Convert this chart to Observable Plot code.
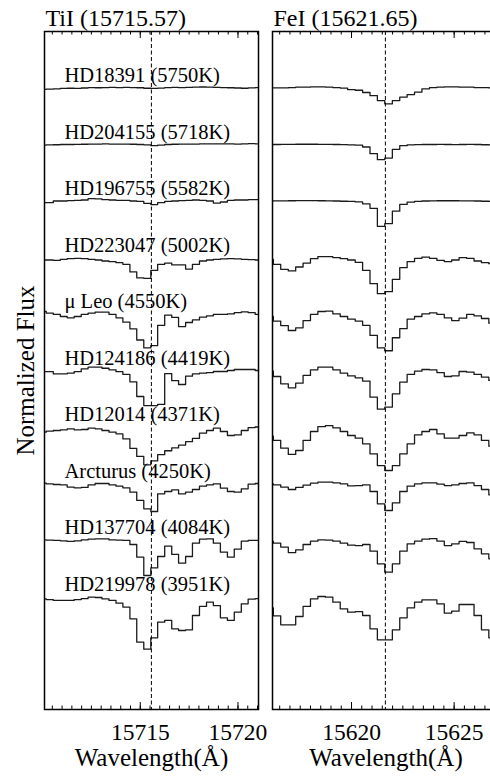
<!DOCTYPE html>
<html>
<head>
<meta charset="utf-8">
<script src="https://cdn.jsdelivr.net/npm/d3@7"></script>
<script src="https://cdn.jsdelivr.net/npm/@observablehq/plot@0.6"></script>
<style>
html, body { margin: 0; padding: 0; background: #fff; overflow: hidden; }
#fig { position: relative; width: 490px; height: 777px; overflow: hidden; background: #fff; }
#fig svg { position: absolute; top: 0; }
#fig svg, #fig svg text { font-family: 'Liberation Serif', serif !important; }
</style>
</head>
<body>
<div id="fig"></div>
<script>
// ---- Data -------------------------------------------------------------
const stars = ["HD18391 (5750K)", "HD204155 (5718K)", "HD196755 (5582K)", "HD223047 (5002K)",
  "μ Leo (4550K)", "HD124186 (4419K)", "HD12014 (4371K)", "Arcturus (4250K)",
  "HD137704 (4084K)", "HD219978 (3951K)"];
const offsets = [4.5, 4.0, 3.5, 3.0, 2.5, 2.0, 1.5, 1.0, 0.5, 0.0];

const tiTitle = "TiI (15715.57)";
const feTitle = "FeI (15621.65)";
const tiLine = 15715.57;
const feLine = 15621.65;
const tiDomain = [15710.10, 15721.05];
const feDomain = [15616.15, 15627.21];
const tiMajor = [15715, 15720];
const feMajor = [15620, 15625];
const tiMinor = [15710.5, 15711, 15711.5, 15712, 15712.5, 15713, 15713.5, 15714, 15714.5, 15715, 15715.5,
  15716, 15716.5, 15717, 15717.5, 15718, 15718.5, 15719, 15719.5, 15720, 15720.5, 15721];
const feMinor = [15616.5, 15617, 15617.5, 15618, 15618.5, 15619, 15619.5, 15620, 15620.5, 15621, 15621.5,
  15622, 15622.5, 15623, 15623.5, 15624, 15624.5, 15625, 15625.5, 15626, 15626.5, 15627];

// pixel edges (wavelength, Å)
const tiEdges = [15709.84, 15710.19, 15710.55, 15710.91, 15711.26, 15711.62, 15711.98, 15712.33, 15712.69,
  15713.04, 15713.40, 15713.76, 15714.11, 15714.47, 15714.82, 15715.18, 15715.54, 15715.89, 15716.25,
  15716.61, 15716.96, 15717.32, 15717.67, 15718.03, 15718.39, 15718.74, 15719.10, 15719.46, 15719.81,
  15720.17, 15720.52, 15720.88, 15721.24];
const feEdges = [15615.83, 15616.19, 15616.55, 15616.92, 15617.28, 15617.64, 15618.00, 15618.36, 15618.73,
  15619.09, 15619.45, 15619.81, 15620.18, 15620.54, 15620.90, 15621.26, 15621.62, 15621.99, 15622.35,
  15622.71, 15623.07, 15623.43, 15623.80, 15624.16, 15624.52, 15624.88, 15625.24, 15625.61, 15625.97,
  15626.33, 15626.69, 15627.05];

// Ti I normalized flux per pixel
const tiHD18391 = [0.988, 0.990, 0.993, 0.996, 0.998, 0.997, 1.000, 1.003, 1.002, 1.004, 1.005, 1.003, 1.006, 1.004, 1.002, 0.998, 0.996, 0.999, 1.004, 1.006, 1.003, 1.005, 1.008, 1.009, 1.007, 1.005, 1.004, 1.002, 1.000, 0.998, 1.001, 1.003];
const tiHD204155 = [0.995, 0.996, 0.998, 1.000, 1.000, 1.001, 1.002, 1.003, 1.004, 1.005, 1.004, 1.003, 1.003, 1.002, 1.000, 0.997, 0.990, 0.995, 1.000, 1.002, 1.003, 1.004, 1.004, 1.005, 1.006, 1.006, 1.005, 1.005, 1.004, 1.006, 1.007, 1.006];
const tiHD196755 = [0.985, 0.985, 1.000, 1.000, 1.003, 1.006, 1.009, 1.021, 1.018, 1.012, 1.009, 1.006, 1.006, 1.000, 0.997, 0.979, 0.968, 0.985, 0.997, 1.000, 1.003, 1.006, 1.009, 1.006, 1.000, 0.982, 0.991, 1.006, 1.009, 1.009, 1.012, 1.012];
const tiHD223047 = [0.978, 0.978, 0.975, 0.984, 0.990, 0.993, 0.990, 0.984, 0.978, 0.969, 0.963, 0.954, 0.940, 0.872, 0.820, 0.816, 0.886, 0.940, 0.951, 0.934, 0.934, 0.898, 0.940, 0.969, 0.978, 0.984, 0.987, 0.990, 0.987, 0.984, 0.981, 0.978];
const tiMuLeo = [1.022, 1.007, 0.996, 0.978, 0.966, 0.978, 0.996, 1.007, 1.016, 1.016, 0.996, 0.966, 0.928, 0.869, 0.770, 0.700, 0.720, 0.900, 0.990, 0.970, 0.889, 0.925, 0.948, 0.972, 0.984, 0.996, 0.996, 1.001, 1.013, 1.019, 1.013, 0.996];
const tiHD124186 = [0.990, 0.990, 0.970, 0.970, 0.976, 0.990, 1.015, 1.030, 1.030, 1.020, 1.006, 0.990, 0.965, 0.900, 0.770, 0.690, 0.690, 0.700, 0.973, 0.910, 0.876, 0.950, 0.970, 0.976, 0.982, 0.991, 0.991, 1.000, 1.009, 1.009, 1.009, 1.000];
const tiHD12014 = [0.954, 0.963, 0.969, 0.975, 0.984, 0.975, 0.978, 0.990, 0.984, 0.969, 0.954, 0.940, 0.895, 0.810, 0.740, 0.665, 0.700, 0.755, 0.790, 0.815, 0.840, 0.870, 0.900, 0.945, 0.969, 0.990, 0.960, 0.925, 0.930, 0.969, 0.995, 1.000];
const tiArcturus = [1.003, 0.997, 0.991, 0.988, 0.968, 0.962, 0.965, 0.988, 1.000, 1.000, 0.988, 0.976, 0.962, 0.923, 0.850, 0.776, 0.752, 0.909, 0.929, 0.944, 0.909, 0.923, 0.947, 0.976, 0.988, 0.997, 0.959, 0.929, 0.923, 0.953, 0.994, 1.000];
const tiHD137704 = [1.001, 0.999, 0.996, 0.993, 0.987, 0.993, 1.001, 1.007, 1.010, 1.010, 1.001, 0.999, 0.996, 0.960, 0.848, 0.686, 0.754, 0.854, 0.945, 0.872, 0.795, 0.854, 0.972, 1.007, 1.010, 0.972, 0.892, 0.848, 0.919, 0.990, 0.996, 0.996];
const tiHD219978 = [0.979, 0.973, 0.965, 0.965, 0.965, 0.973, 0.982, 0.994, 0.991, 0.979, 0.965, 0.941, 0.906, 0.802, 0.596, 0.534, 0.634, 0.773, 0.788, 0.714, 0.699, 0.705, 0.832, 0.912, 0.950, 0.920, 0.811, 0.788, 0.861, 0.935, 0.976, 0.982];

// Fe I normalized flux per pixel
const feHD18391 = [1.001, 1.001, 1.001, 1.004, 1.007, 1.007, 1.010, 1.010, 1.007, 1.004, 0.999, 0.986, 0.980, 0.960, 0.932, 0.889, 0.860, 0.889, 0.919, 0.942, 0.963, 0.993, 1.004, 1.007, 1.010, 1.010, 1.007, 1.007, 1.004, 1.004, 1.001];
const feHD204155 = [1.000, 1.000, 1.001, 1.001, 1.002, 1.002, 1.002, 1.001, 1.001, 1.000, 0.999, 0.997, 0.994, 0.978, 0.919, 0.866, 0.880, 0.957, 0.990, 0.997, 0.999, 1.000, 1.000, 1.001, 1.000, 0.999, 1.000, 1.001, 1.000, 0.998, 0.997];
const feHD196755 = [1.000, 1.001, 1.001, 1.002, 1.003, 1.003, 1.003, 1.002, 1.001, 1.000, 0.998, 0.996, 0.992, 0.975, 0.935, 0.776, 0.800, 0.910, 0.970, 0.990, 0.997, 1.000, 1.001, 1.002, 1.002, 1.002, 1.001, 1.001, 1.000, 0.998, 0.997];
const feHD223047 = [0.984, 0.940, 0.895, 0.881, 0.916, 0.951, 0.990, 1.007, 1.007, 0.999, 0.990, 0.978, 0.957, 0.886, 0.768, 0.680, 0.698, 0.807, 0.910, 0.963, 0.993, 1.004, 0.993, 0.975, 0.963, 0.978, 0.999, 0.993, 0.969, 0.954, 0.945];
const feMuLeo = [0.978, 0.937, 0.898, 0.854, 0.878, 0.942, 0.996, 1.022, 1.025, 1.001, 0.978, 0.954, 0.937, 0.900, 0.810, 0.700, 0.675, 0.790, 0.870, 0.955, 0.978, 1.001, 1.010, 0.996, 0.966, 0.942, 0.963, 0.996, 0.984, 0.960, 0.919];
const feHD124186 = [0.994, 0.947, 0.882, 0.847, 0.888, 0.956, 1.006, 1.029, 1.029, 1.006, 0.976, 0.953, 0.935, 0.906, 0.764, 0.658, 0.676, 0.794, 0.897, 0.965, 0.994, 1.009, 1.006, 0.982, 0.947, 0.953, 0.991, 0.985, 0.965, 0.941, 0.912];
const feHD12014 = [0.919, 0.881, 0.813, 0.757, 0.792, 0.881, 0.960, 1.004, 1.013, 0.993, 0.960, 0.925, 0.901, 0.851, 0.763, 0.659, 0.615, 0.659, 0.763, 0.851, 0.931, 0.960, 0.978, 0.940, 0.901, 0.901, 0.925, 0.948, 0.931, 0.881, 0.830];
const feArcturus = [0.997, 0.988, 0.968, 0.947, 0.965, 0.985, 1.003, 1.012, 1.012, 1.006, 0.997, 0.979, 0.982, 0.988, 0.929, 0.820, 0.761, 0.829, 0.929, 0.976, 0.997, 1.006, 1.006, 0.994, 0.982, 0.988, 1.000, 1.006, 0.982, 0.947, 0.900];
const feHD137704 = [0.990, 0.972, 0.937, 0.889, 0.913, 0.960, 0.990, 1.001, 0.999, 0.990, 0.972, 0.954, 0.951, 0.960, 0.901, 0.789, 0.715, 0.789, 0.901, 0.966, 0.990, 1.007, 1.013, 0.990, 0.951, 0.966, 0.987, 0.978, 0.922, 0.878, 0.833];
const feHD219978 = [0.900, 0.829, 0.749, 0.749, 0.823, 0.912, 0.979, 1.000, 0.994, 0.950, 0.891, 0.861, 0.867, 0.832, 0.714, 0.617, 0.617, 0.705, 0.811, 0.900, 0.950, 0.971, 0.971, 0.935, 0.853, 0.870, 0.929, 0.929, 0.832, 0.705, 0.634];

const tiFlux = [tiHD18391, tiHD204155, tiHD196755, tiHD223047, tiMuLeo, tiHD124186, tiHD12014, tiArcturus, tiHD137704, tiHD219978];
const feFlux = [feHD18391, feHD204155, feHD196755, feHD223047, feMuLeo, feHD124186, feHD12014, feArcturus, feHD137704, feHD219978];

// ---- Build tables -------------------------------------------------------
function buildRows(edges, fluxes) {
  const rows = [];
  fluxes.forEach((flux, s) => {
    const star = stars[s], off = offsets[s];
    flux.forEach((f, i) => rows.push({star, x: edges[i], y: f + off}));
    rows.push({star, x: edges[flux.length], y: flux[flux.length - 1] + off});
  });
  return rows;
}
const labelRows = stars.map((star, i) => ({star, y: offsets[i] + 1}));

const FONT = "'Liberation Serif', serif";
const H = 777, MT = 31, MB = 68;
const frameH = H - MT - MB;
const MAJ = 7, MIN = 3.5;

function panel({width, marginLeft, marginRight, domain, edges, fluxes, line, major, minor, title, left}) {
  const marks = [
    Plot.line(buildRows(edges, fluxes), {x: "x", y: "y", z: "star", curve: "step-after", clip: true,
      stroke: "#1a1a1a", strokeWidth: 1.3}),
    Plot.ruleX([line], {stroke: "#000", strokeWidth: 1, strokeDasharray: "4,2.5"}),
    Plot.ruleX(minor, {insetTop: frameH - MIN, stroke: "#000", strokeWidth: 1}),
    Plot.ruleX(minor, {insetBottom: frameH - MIN, stroke: "#000", strokeWidth: 1}),
    Plot.ruleX(major, {insetTop: frameH - MAJ, stroke: "#000", strokeWidth: 1}),
    Plot.ruleX(major, {insetBottom: frameH - MAJ, stroke: "#000", strokeWidth: 1}),
    Plot.frame({stroke: "#000", strokeWidth: 1.5}),
    Plot.text(major, {x: d => d, text: d => String(d), frameAnchor: "bottom", dy: 23,
      textAnchor: "middle", lineAnchor: "middle", fontSize: 23.5, fontFamily: FONT, fill: "#000"}),
    Plot.text(["Wavelength(Å)"], {frameAnchor: "bottom", dy: 48, textAnchor: "middle", lineAnchor: "middle",
      fontSize: 25, fontFamily: FONT, fill: "#000"}),
    Plot.text([title], {frameAnchor: "top-left", textAnchor: "start", lineAnchor: "bottom",
      dx: 1, dy: -6, fontSize: 24, fontFamily: FONT, fill: "#000"})
  ];
  if (left) {
    marks.push(
      Plot.text(labelRows, {y: "y", text: "star", frameAnchor: "left", dx: 20, dy: -6,
        textAnchor: "start", lineAnchor: "bottom", fontSize: 20.5, fontFamily: FONT, fill: "#000"}),
      Plot.text(["Normalized Flux"], {frameAnchor: "left", rotate: -90, dx: -19,
        textAnchor: "middle", lineAnchor: "middle", fontSize: 25, fontFamily: FONT, fill: "#000"})
    );
  }
  return Plot.plot({
    width, height: H,
    marginLeft, marginRight, marginTop: MT, marginBottom: MB,
    style: {fontFamily: FONT, background: "transparent", overflow: "visible"},
    x: {domain, axis: null},
    y: {domain: [0, 6], axis: null},
    marks
  });
}

const fig = document.getElementById("fig");
const leftSvg = panel({width: 264, marginLeft: 44, marginRight: 6, domain: tiDomain, edges: tiEdges,
  fluxes: tiFlux, line: tiLine, major: tiMajor, minor: tiMinor, title: tiTitle, left: true});
leftSvg.style.left = "0px";
fig.appendChild(leftSvg);

const rightSvg = panel({width: 256, marginLeft: 8, marginRight: 21, domain: feDomain, edges: feEdges,
  fluxes: feFlux, line: feLine, major: feMajor, minor: feMinor, title: feTitle, left: false});
rightSvg.style.left = "264px";
fig.appendChild(rightSvg);
</script>
</body>
</html>
